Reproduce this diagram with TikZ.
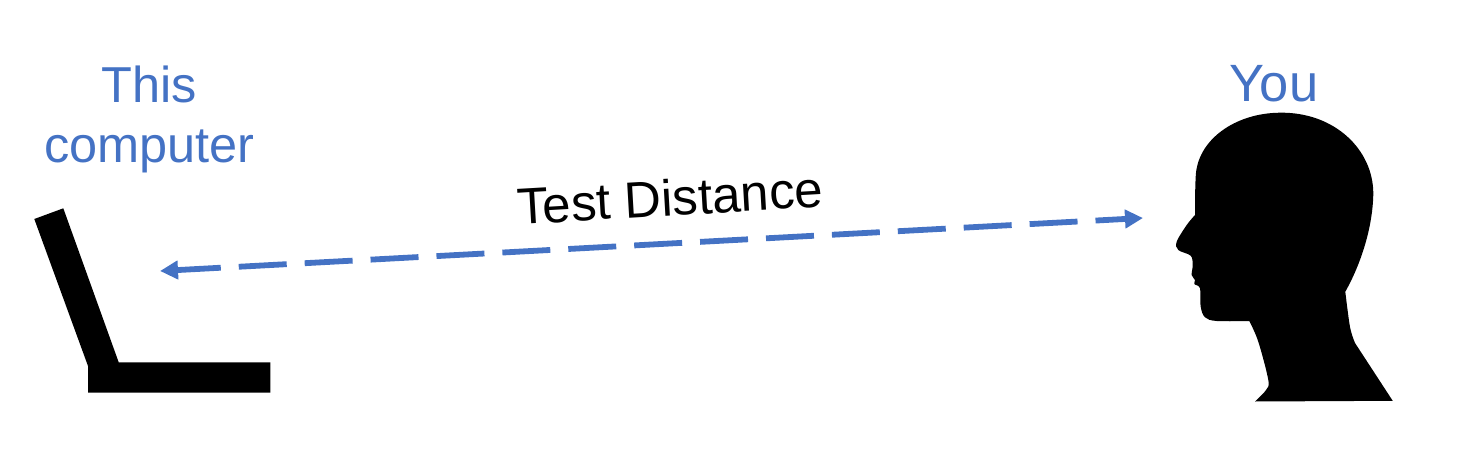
\documentclass[tikz,border=0pt]{standalone}
\usepackage{fontspec}
\usepackage{xcolor}
\setmainfont{Liberation Sans}
\usetikzlibrary{arrows.meta}
\definecolor{armblue}{HTML}{4472C4}
\tikzset{
  bluetext/.style={text=armblue,font=\fontsize{50.5}{60}\selectfont,align=center,inner sep=0pt},
  distarrow/.style={draw=armblue,line width=5.8pt,dash pattern=on 48pt off 18pt,dash phase=4pt,
    {Triangle[length=18pt,width=18pt]}-{Triangle[length=18pt,width=18pt]}}
}

\begin{document}
\begin{tikzpicture}[x=1pt,y=-1pt]
\useasboundingbox (0,0) rectangle (1462,452);
% computer
\fill (34.3,219)--(63.3,208.3)--(118.7,362.3)--(270.3,362.3)--(270.3,392.7)--(88,392.7)--(88,366)--cycle;
% head
\fill (1255,401.5)--(1392.7,400.8)--(1355,343)
  -- plot[smooth,tension=.55] coordinates {(1355,343) (1350,327) (1345.3,291.7)}
  .. controls (1362,262) and (1373,225) .. (1373.3,193)
  .. controls (1373,150) and (1335,112) .. (1280,112.7)
  .. controls (1235,113) and (1197,140) .. (1195.7,176.7)
  .. controls (1195,190) and (1195,205) .. (1195,215)
  -- plot[smooth,tension=.55] coordinates {(1195,215) (1186.7,225) (1176.7,241.7) (1178.3,250) (1190.7,255.7) (1192.7,265) (1191.7,275)
    (1195,280) (1194.3,284) (1200,288.3) (1200.7,306.7) (1205,317.3) (1216.7,321) (1249.3,321)}
  -- plot[smooth,tension=.55] coordinates {(1249.3,321) (1258.3,341.7) (1268.3,380) (1266,390) (1255,401.5)}
  -- cycle;
\node[bluetext] (computer) at (149.5,119.5){This\\computer};
\node[bluetext,font=\fontsize{52.5}{60}\selectfont] (you) at (1274,83.5){You};
\node[inner sep=0pt,rotate=3.3,font=\fontsize{51}{60}\selectfont] (dist) at (670,197.5){Test Distance};
\coordinate (screenend) at (160,271);
\coordinate (headend) at (1143,218);
\draw[distarrow] (screenend)--(headend);
\end{tikzpicture}
\end{document}
